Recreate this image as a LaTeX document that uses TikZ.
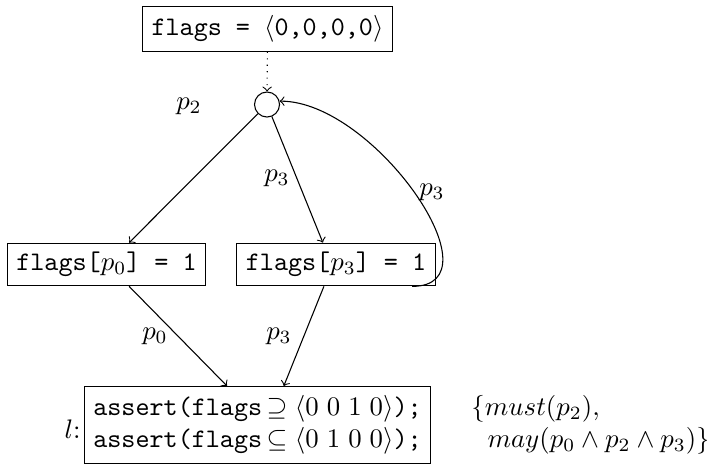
\documentclass[tikz,border=0pt]{standalone}
\usepackage{amsmath,amssymb}
\newcommand{\gapd}{\kern3pt}
\begin{document}
\begin{tikzpicture}[x=0.37313pt, y=-0.37313pt,
  stmt/.style={draw, inner sep=0.3333em},
  lbl/.style={inner sep=1pt},
  >=to]
\useasboundingbox (0,0) rectangle (707,466);

% statements
\node[stmt] (init) at (267.5,29) {\texttt{flags = $\langle$0,0,0,0$\rangle$}};
\node[circle, draw, minimum size=9.33pt, inner sep=0pt] (c) at (267,104.5) {};
\node[lbl] (lp2) at (189,106) {$p_2$};
\node[stmt] (lbox) at (106.5,264.5) {\texttt{flags[$p_0$] = 1}};
\node[stmt] (rbox) at (336,264.5) {\texttt{flags[$p_3$] = 1}};
\node[stmt, align=left] (chk) at (257.5,425)
  {\texttt{assert(flags}$\,\supseteq\langle 0\gapd 0\gapd 1\gapd 0\rangle$\texttt{);}\\
   \texttt{assert(flags}$\,\subseteq\langle 0\gapd 1\gapd 0\gapd 0\rangle$\texttt{);}};
\node[anchor=east, lbl] (lab) at ([yshift=-1.5pt]chk.west) {$l$:};
\node[anchor=west, align=left] (sets) at (462,425)
  {$\{must(p_2),$\\\hspace*{6pt}$may(p_0\wedge p_2\wedge p_3)\}$};

% control flow
\draw[dotted, ->] (init) -- (c);
\draw[->] (c) -- (lbox.44);
\draw[->] (c) -- (rbox.121);
\draw[->] (rbox.-16) .. controls +(90,0) and +(95,0) .. (c.15);
\draw[->] (lbox.-44) -- (chk.128);
\draw[->] (rbox.-119) -- (chk.56);

% edge labels
\node[lbl] (lp3a) at (277,178) {$p_3$};
\node[lbl] (lp3b) at (432,192) {$p_3$};
\node[lbl] (lp0) at (155,336) {$p_0$};
\node[lbl] (lp3c) at (279,336) {$p_3$};
\end{tikzpicture}
\end{document}
